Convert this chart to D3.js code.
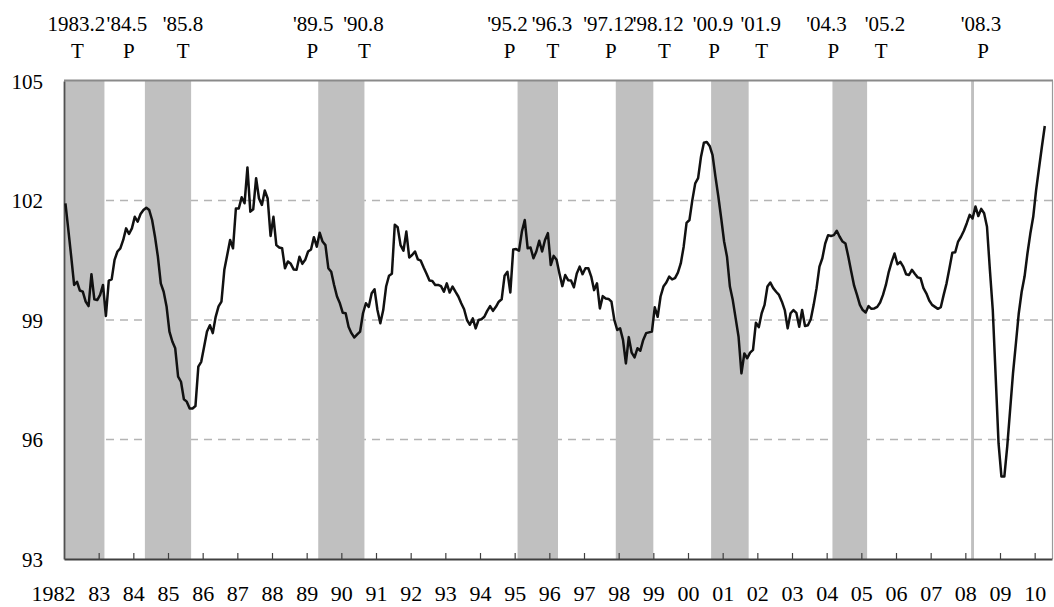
<!DOCTYPE html>
<html><head><meta charset="utf-8">
<script src="https://cdn.jsdelivr.net/npm/d3@7/dist/d3.min.js"></script>
<style>
body{margin:0;background:#fff}
</style>
</head><body>
<svg id="chart" width="1054" height="607"></svg>
<script>
// ---------- DATA ----------
const firstYear = 1982;          // series starts January 1982, monthly
const values = [
 101.93,101.26,100.59,99.88,99.96,99.74,99.71,99.46,99.35,100.15,99.52,99.50,
 99.63,99.88,99.10,99.99,100.02,100.51,100.72,100.80,101.01,101.30,101.16,101.30,
 101.59,101.47,101.66,101.76,101.82,101.76,101.51,101.09,100.59,99.92,99.71,99.34,
 98.71,98.46,98.29,97.58,97.45,97.01,96.95,96.78,96.78,96.84,97.83,97.95,
 98.33,98.71,98.87,98.67,99.08,99.34,99.46,100.26,100.63,101.01,100.80,101.80,
 101.80,102.08,101.93,102.83,101.72,101.78,102.56,102.05,101.89,102.25,102.05,101.11,
 101.59,100.88,100.82,100.80,100.30,100.47,100.41,100.27,100.26,100.59,100.41,100.51,
 100.72,100.77,101.08,100.84,101.19,100.97,100.88,100.30,100.21,99.88,99.59,99.42,
 99.18,99.17,98.83,98.67,98.56,98.64,98.71,99.17,99.42,99.33,99.67,99.77,
 99.25,98.92,99.25,99.84,100.11,100.16,101.39,101.33,100.88,100.74,101.22,100.57,
 100.63,100.72,100.52,100.49,100.32,100.16,99.99,99.98,99.88,99.88,99.85,99.71,
 99.92,99.69,99.84,99.71,99.59,99.42,99.27,99.00,98.88,99.04,98.79,99.00,
 99.02,99.08,99.23,99.35,99.23,99.33,99.46,99.52,100.11,100.21,99.69,100.77,
 100.78,100.74,101.22,101.51,100.80,100.82,100.55,100.72,100.99,100.72,101.01,101.18,
 100.38,100.61,100.51,100.17,99.85,100.13,100.00,99.99,99.82,100.17,100.34,100.15,
 100.30,100.30,100.09,99.75,99.92,99.29,99.60,99.54,99.53,99.46,99.00,98.75,
 98.79,98.50,97.91,98.57,98.18,98.06,98.29,98.23,98.50,98.67,98.69,98.71,
 99.32,99.08,99.59,99.84,99.94,100.09,100.02,100.05,100.19,100.42,100.84,101.44,
 101.51,102.01,102.43,102.56,103.10,103.45,103.47,103.37,103.14,102.60,102.10,101.55,
 100.97,100.59,99.84,99.50,99.04,98.58,97.66,98.16,98.04,98.18,98.25,98.93,
 98.82,99.17,99.38,99.84,99.94,99.80,99.71,99.63,99.46,99.25,98.79,99.17,
 99.25,99.18,98.83,99.25,98.85,98.87,99.02,99.38,99.80,100.34,100.55,100.92,
 101.13,101.11,101.13,101.24,101.09,100.97,100.92,100.59,100.22,99.86,99.63,99.38,
 99.25,99.19,99.35,99.28,99.29,99.33,99.44,99.63,99.88,100.21,100.46,100.67,
 100.40,100.46,100.34,100.15,100.13,100.26,100.16,100.07,100.05,99.80,99.67,99.49,
 99.38,99.33,99.28,99.32,99.63,99.92,100.30,100.69,100.70,100.97,101.09,101.24,
 101.43,101.64,101.55,101.85,101.61,101.79,101.68,101.34,100.26,99.25,97.58,95.90,
 95.07,95.07,95.82,96.74,97.66,98.41,99.17,99.71,100.09,100.67,101.17,101.59,
 102.26,102.81,103.35,103.87
];
const yearTicks = d3.range(1982, 2011);
const yearTickLabels = ["1982","83","84","85","86","87","88","89","90","91","92","93","94","95","96","97","98","99","00","01","02","03","04","05","06","07","08","09","10"];
const yTickValues = [93, 96, 99, 102, 105];
const gridValues = [96, 99, 102];
const turnLabels = ["1983.2","'84.5","'85.8","'89.5","'90.8","'95.2","'96.3","'97.12","'98.12","'00.9","'01.9","'04.3","'05.2","'08.3"];
const turnTypes  = ["T","P","T","P","T","P","T","P","T","P","T","P","T","P"];
const turnYears  = [1983,1984,1985,1989,1990,1995,1996,1997,1998,2000,2001,2004,2005,2008];
const turnMonths = [2,5,8,5,8,2,3,12,12,9,9,3,2,3];

// ---------- LAYOUT ----------
const L = 64, R = 1052, T = 81, B = 559;
const FONT = "'Liberation Serif', 'Times New Roman', serif";
const labelShift1 = [-28,-18,-8,-5,-1,-10,-6,-7,5,2,12,-6,18,10];
const labelShift2 = [-27,-16,-8,-6,0,-8,-5,-5,11,3,13,1,14,12];

const svg = d3.select("#chart");
const x = d3.scaleLinear().domain([1982, 2010.5]).range([L, R]);
const y = d3.scaleLinear().domain([93, 105]).range([B, T]);

// grid
svg.append("g").selectAll("line").data(gridValues).join("line")
  .attr("x1", L).attr("x2", R).attr("y1", d => y(d)).attr("y2", d => y(d))
  .attr("stroke", "#b4b4b4").attr("stroke-width", 1.3).attr("stroke-dasharray", "8,6");

// bands (peak month start -> trough month end)
const turns = turnYears.map((yr, i) => ({yr, m: turnMonths[i], type: turnTypes[i], label: turnLabels[i]}));
const bands = [];
let start = null;
turns.forEach(t => {
  if (t.type === "P") start = t.yr + (t.m - 1) / 12;
  else { bands.push([start === null ? x.domain()[0] : start, t.yr + t.m / 12]); start = null; }
});
if (start !== null) bands.push([start, start + 1 / 12]);
svg.append("g").selectAll("rect").data(bands).join("rect")
  .attr("x", d => x(d[0])).attr("width", d => x(d[1]) - x(d[0]))
  .attr("y", T).attr("height", B - T).attr("fill", "#c0c0c0");

// frame
svg.append("line").attr("x1", L).attr("x2", R + 1).attr("y1", T - 0.5).attr("y2", T - 0.5)
  .attr("stroke", "#8a8a8a").attr("stroke-width", 2);
svg.append("line").attr("x1", R + 0.5).attr("x2", R + 0.5).attr("y1", T).attr("y2", B)
  .attr("stroke", "#9a9a9a").attr("stroke-width", 1.2);

// x axis
const xAxis = d3.axisBottom(x).tickValues(yearTicks).tickSizeInner(-6).tickSizeOuter(0)
  .tickFormat((d, i) => yearTickLabels[i]);
const gx = svg.append("g").attr("transform", `translate(0,${B})`).call(xAxis);
gx.select(".domain").attr("stroke", "#404040").attr("stroke-width", 2);
gx.selectAll(".tick line").attr("stroke", "#404040").attr("stroke-width", 1.2);
gx.selectAll(".tick").filter(d => d === 1982).select("line").remove();
gx.selectAll(".tick text").attr("font-size", 22).style("font-family", FONT)
  .attr("fill", "#000").attr("y", 0).attr("dy", 42)
  .attr("dx", d => d === 1982 ? -11 : 0);

// y axis
const yAxis = d3.axisLeft(y).tickValues(yTickValues).tickSize(0).tickPadding(21);
const gy = svg.append("g").attr("transform", `translate(${L},0)`).call(yAxis);
gy.select(".domain").attr("stroke", "#505050").attr("stroke-width", 1.8);
gy.selectAll(".tick text").attr("font-size", 21).style("font-family", FONT)
  .attr("fill", "#000").attr("dy", 7);

// series line
const line = d3.line()
  .x((d, i) => x(firstYear + (i + 0.5) / 12))
  .y(d => y(d));
svg.append("path").datum(values).attr("d", line)
  .attr("fill", "none").attr("stroke", "#111").attr("stroke-width", 2.5)
  .attr("stroke-linejoin", "round");

// turning point labels
const tl = svg.append("g");
turns.forEach((t, i) => {
  const base = x(t.type === "P" ? t.yr + (t.m - 1) / 12 : t.yr + t.m / 12);
  tl.append("text").attr("x", base + labelShift1[i]).attr("y", 31)
    .attr("text-anchor", "middle").attr("font-size", 21).style("font-family", FONT)
    .attr("fill", "#000").text(t.label);
  tl.append("text").attr("x", base + labelShift2[i]).attr("y", 58)
    .attr("text-anchor", "middle").attr("font-size", 21).style("font-family", FONT)
    .attr("fill", "#000").text(t.type);
});
</script>
</body></html>
